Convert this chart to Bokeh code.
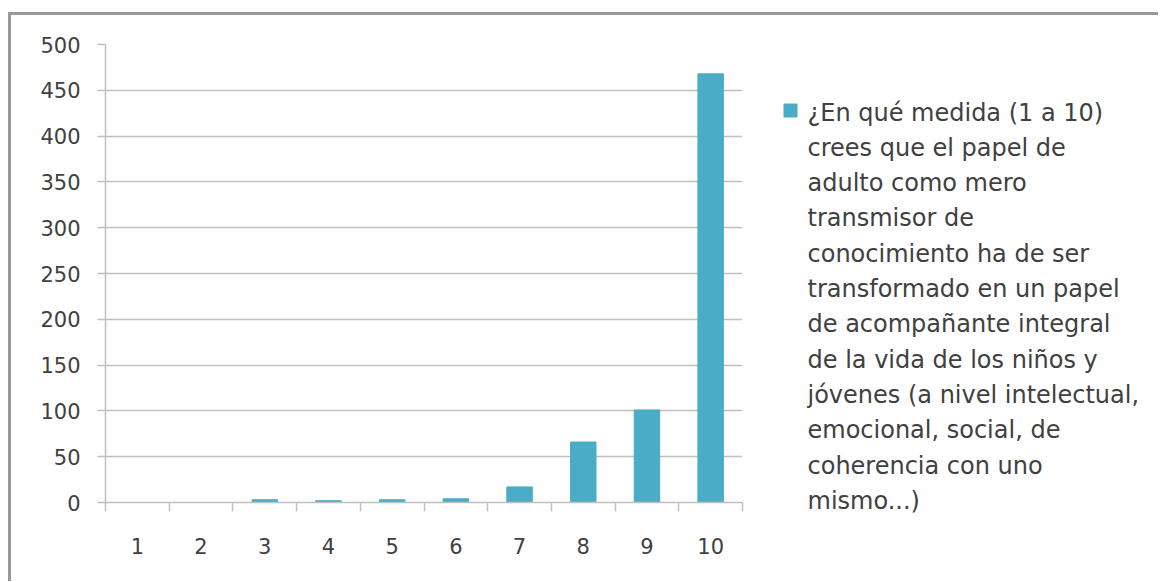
from bokeh.plotting import figure
from bokeh.layouts import row, column
from bokeh.models import ColumnDataSource, FixedTicker, Range1d
from bokeh.core.properties import value
from bokeh.embed import file_html
from bokeh.resources import INLINE

categories = ["1", "2", "3", "4", "5", "6", "7", "8", "9", "10"]
positions = [1, 2, 3, 4, 5, 6, 7, 8, 9, 10]
values = [0, 0, 3, 2, 3, 4, 17, 66, 101, 468]
y_ticks = [0, 50, 100, 150, 200, 250, 300, 350, 400, 450, 500]
legend_lines = ["¿En qué medida (1 a 10)", "crees que el papel de", "adulto como mero",
                "transmisor de", "conocimiento ha de ser", "transformado en un papel",
                "de acompañante integral", "de la vida de los niños y",
                "jóvenes (a nivel intelectual,", "emocional, social, de",
                "coherencia con uno", "mismo...)"]

FONT = "DejaVu Sans"
BAR = "#4aacc6"
GRID = "#bfbfbf"
TXT = "#404040"

# ---- main chart ----
W1, H = 749, 566
source = ColumnDataSource(dict(x=positions, top=values))

p = figure(width=W1, height=H, output_backend="svg", toolbar_location=None,
           x_range=Range1d(0.5, 10.5), y_range=Range1d(0, 500),
           min_border_left=94, min_border_right=18, min_border_top=29, min_border_bottom=79)

p.vbar(x="x", top="top", width=0.4, source=source, fill_color=BAR, line_color=BAR)

p.outline_line_color = None
p.background_fill_color = "white"
p.border_fill_color = "white"

p.xgrid.visible = False
p.ygrid.grid_line_color = GRID
p.ygrid.grid_line_width = 1.5
p.ygrid.ticker = FixedTicker(ticks=y_ticks)

p.yaxis.ticker = FixedTicker(ticks=y_ticks)
p.yaxis.axis_line_color = GRID
p.yaxis.axis_line_width = 1.5
p.yaxis.major_tick_line_color = GRID
p.yaxis.major_tick_line_width = 1.5
p.yaxis.major_tick_in = 0
p.yaxis.major_tick_out = 8
p.yaxis.minor_tick_line_color = None
p.yaxis.major_label_text_font = FONT
p.yaxis.major_label_text_font_size = "21px"
p.yaxis.major_label_text_color = TXT
p.yaxis.major_label_standoff = 17

p.xaxis.ticker = FixedTicker(ticks=positions, minor_ticks=[x - 0.5 for x in positions] + [10.5])
p.xaxis.major_label_overrides = {x: c for x, c in zip(positions, categories)}
p.xaxis.axis_line_color = GRID
p.xaxis.axis_line_width = 1.5
p.xaxis.major_tick_line_color = None
p.xaxis.minor_tick_line_color = GRID
p.xaxis.minor_tick_line_width = 1.5
p.xaxis.minor_tick_in = 0
p.xaxis.minor_tick_out = 9
p.xaxis.major_label_text_font = FONT
p.xaxis.major_label_text_font_size = "21px"
p.xaxis.major_label_text_color = TXT
p.xaxis.major_label_standoff = 26

# ---- legend panel ----
W2 = 398
lg = figure(width=W2, height=H, output_backend="svg", toolbar_location=None,
            x_range=Range1d(0, W2), y_range=Range1d(0, H),
            min_border=0, min_border_left=0, min_border_right=0,
            min_border_top=0, min_border_bottom=0)
lg.axis.visible = False
lg.grid.visible = False
lg.outline_line_color = None
lg.background_fill_color = "white"
lg.border_fill_color = "white"

first_y = H - 97      # centre of first legend line, in panel pixels from bottom
step = 35.3
ys = [first_y - i * step for i in range(len(legend_lines))]
lg.text(x=[47] * len(legend_lines), y=ys, text=legend_lines,
        text_font=value(FONT), text_font_size="24px", text_color=TXT,
        text_align="left", text_baseline="middle")
lg.scatter(x=[30], y=[first_y + 2], marker="square", size=13,
           fill_color=BAR, line_color=BAR)

layout = row(p, column(lg))
layout.styles = {"margin-left": "8px", "margin-top": "12px",
                 "border-top": "3px solid #999999", "border-left": "3px solid #999999"}

open("out.html", "w").write(file_html(layout, INLINE))
